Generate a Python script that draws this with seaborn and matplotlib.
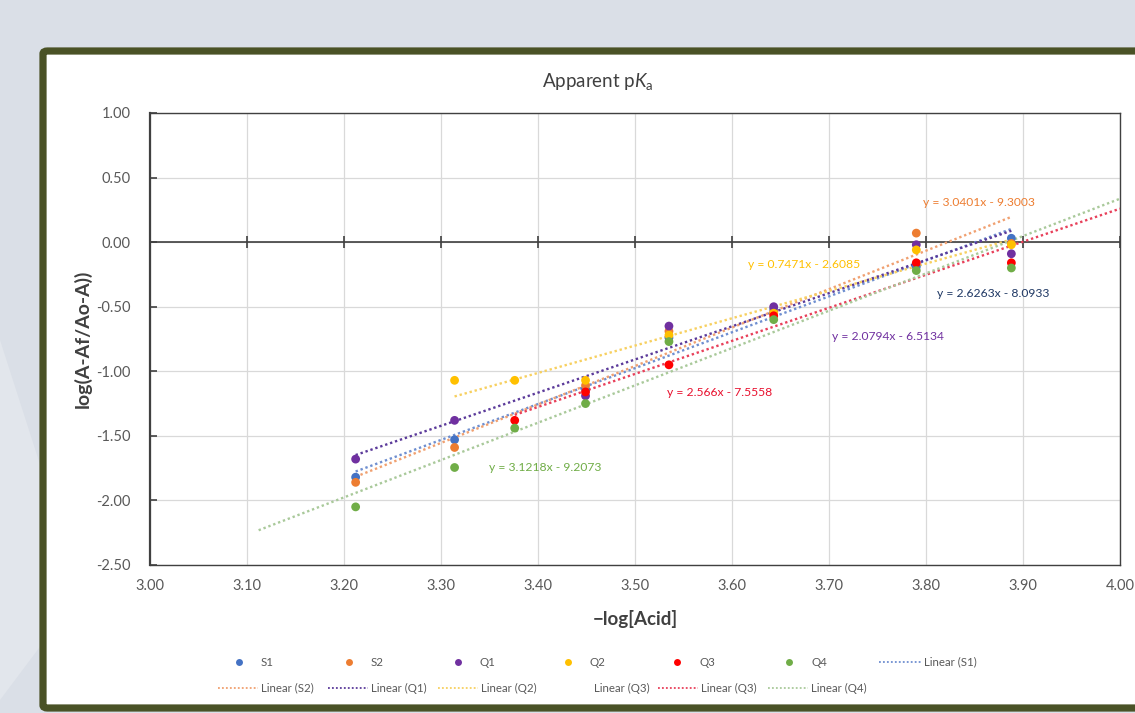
import numpy as np
import pandas as pd
import matplotlib
matplotlib.use("Agg")
import matplotlib.pyplot as plt
from matplotlib.lines import Line2D
from matplotlib.patches import FancyBboxPatch, Polygon
import seaborn as sns

# ---- data -------------------------------------------------------------
series_names = ["S1", "S2", "Q1", "Q2", "Q3", "Q4"]

x_s1 = [3.212, 3.314, 3.449, 3.535, 3.643, 3.790, 3.888]
y_s1 = [-1.82, -1.53, -1.14, -0.74, -0.52, -0.19, 0.03]

x_s2 = [3.212, 3.314, 3.449, 3.535, 3.643, 3.790, 3.888]
y_s2 = [-1.86, -1.59, -1.11, -0.69, -0.54, 0.07, -0.01]

x_q1 = [3.212, 3.314, 3.449, 3.535, 3.643, 3.790, 3.888]
y_q1 = [-1.68, -1.38, -1.19, -0.65, -0.50, -0.02, -0.09]

x_q2 = [3.314, 3.376, 3.449, 3.535, 3.643, 3.790, 3.888]
y_q2 = [-1.07, -1.07, -1.07, -0.72, -0.55, -0.06, -0.02]

x_q3 = [3.376, 3.449, 3.535, 3.643, 3.790, 3.888]
y_q3 = [-1.38, -1.16, -0.95, -0.57, -0.16, -0.16]

x_q4 = [3.212, 3.314, 3.376, 3.449, 3.535, 3.643, 3.790, 3.888]
y_q4 = [-2.05, -1.745, -1.44, -1.25, -0.77, -0.60, -0.22, -0.20]

equations = ["y = 3.0401x - 9.3003", "y = 0.7471x - 2.6085",
             "y = 2.6263x - 8.0933", "y = 2.0794x - 6.5134",
             "y = 2.566x - 7.5558", "y = 3.1218x - 9.2073"]

x_ticks = [3.00, 3.10, 3.20, 3.30, 3.40, 3.50, 3.60, 3.70, 3.80, 3.90, 4.00]
y_ticks = [1.00, 0.50, 0.00, -0.50, -1.00, -1.50, -2.00, -2.50]

# ---- styling ----------------------------------------------------------
point_colors = {"S1": "#4472C4", "S2": "#ED7D31", "Q1": "#7030A0",
                "Q2": "#FFC000", "Q3": "#FF0000", "Q4": "#70AD47"}
trend_colors = {"S1": "#6f8fd0", "S2": "#f0a070", "Q1": "#5b3a9a",
                "Q2": "#f7d060", "Q3": "#e8405a", "Q4": "#a9c99a"}
# trendline forecast (backward, forward) in x units
trend_extend = {"S1": (0, 0), "S2": (0, 0), "Q1": (0, 0),
                "Q2": (0, 0), "Q3": (0, 0.112), "Q4": (0.1, 0.112)}
eq_colors = ["#ED7D31", "#FFC000", "#1F3864", "#7030A0", "#E8102E", "#70AD47"]
eq_pos = [(3.797, 0.309), (3.6165, -0.170), (3.811, -0.394),
          (3.703, -0.734), (3.533, -1.166), (3.349, -1.745)]

sns.set_theme(style="white")
plt.rcParams["font.family"] = ["Lato", "DejaVu Sans"]
plt.rcParams["mathtext.fontset"] = "custom"
plt.rcParams["mathtext.rm"] = "Lato"
plt.rcParams["mathtext.it"] = "Lato:italic"

W, H = 1135, 713
fig = plt.figure(figsize=(W / 100, H / 100), dpi=100, facecolor="#dadfe7")


def fx(px):
    return px / W


def fy(py):
    return 1 - py / H


# soft lighter swoosh on the left of the backdrop
fig.patches.append(Polygon([(0, fy(340)), (fx(45), fy(480)), (fx(45), fy(640)),
                            (0, fy(700))], closed=True, transform=fig.transFigure,
                           facecolor="#e2e6ec", edgecolor="none", zorder=0))
# white panel with olive frame
fig.patches.append(FancyBboxPatch((fx(43), fy(708)), fx(1150 - 43), (708 - 51) / H,
                                  boxstyle="round,pad=0,rounding_size=0.004",
                                  transform=fig.transFigure, facecolor="white",
                                  edgecolor="#4a5226", linewidth=5.2, zorder=1))

ax = fig.add_axes([fx(150), fy(565), (1120 - 150) / W, (565 - 113) / H])
ax.set_facecolor("white")
ax.set_zorder(2)

xs = {"S1": x_s1, "S2": x_s2, "Q1": x_q1, "Q2": x_q2, "Q3": x_q3, "Q4": x_q4}
ys = {"S1": y_s1, "S2": y_s2, "Q1": y_q1, "Q2": y_q2, "Q3": y_q3, "Q4": y_q4}
df = pd.concat([pd.DataFrame({"x": xs[n], "y": ys[n], "series": n}) for n in series_names],
               ignore_index=True)

# grid
ax.set_xlim(3.0, 4.0)
ax.set_ylim(-2.5, 1.0)
ax.set_xticks(x_ticks)
ax.set_yticks(y_ticks)
ax.grid(True, color="#d9d9d9", linewidth=0.9)
ax.set_axisbelow(True)

# zero axis line with crossing tick marks
ax.axhline(0, color="#3f3f3f", linewidth=1.2, zorder=2)
ax.plot(x_ticks, np.zeros(len(x_ticks)), linestyle="none", marker="|",
        markersize=9, markeredgewidth=1.2, color="#3f3f3f", zorder=2, clip_on=False)

# linear trendlines
dotted = (0, (1.0, 1.2))
for n in series_names:
    k, b = np.polyfit(xs[n], ys[n], 1)
    back, fwd = trend_extend[n]
    xx = np.array([min(xs[n]) - back, max(xs[n]) + fwd])
    ax.plot(xx, k * xx + b, linestyle=dotted, linewidth=1.7,
            color=trend_colors[n], zorder=3)

# data points
sns.scatterplot(data=df, x="x", y="y", hue="series", palette=point_colors,
                hue_order=series_names, s=40, edgecolor="none", linewidth=0,
                legend=False, ax=ax, zorder=4)

for txt, c, (px, py) in zip(equations, eq_colors, eq_pos):
    ax.text(px, py, txt, color=c, fontsize=8.7, va="center", ha="left", zorder=5)

# axes frame and ticks
for side in ["left", "right", "top", "bottom"]:
    ax.spines[side].set_color("#404040")
    ax.spines[side].set_linewidth(1.0)
ax.spines["left"].set_linewidth(1.6)
ax.tick_params(axis="y", direction="in", length=5, width=1.2, color="#404040",
               left=True, labelsize=10.5, labelcolor="#595959", pad=14)
ax.tick_params(axis="x", length=0, labelsize=10.5, labelcolor="#595959", pad=10)
ax.set_xticklabels([f"{v:.2f}" for v in x_ticks])
ax.set_yticklabels([f"{v:.2f}" for v in y_ticks])

ax.set_xlabel("\u2212log[Acid]", fontsize=13.5, fontweight="bold", color="#404040", labelpad=12)
ax.set_ylabel("log(A-Af/Ao-A))", fontsize=14, fontweight="bold", color="#404040", labelpad=3)
fig.text(fx(598), fy(82), "Apparent p$\\mathit{K}_\\mathrm{a}$", fontsize=13.5,
         color="#404040", ha="center", va="center", zorder=3)

# legend: two rows of entries laid out on the panel
LEG_FS = 8.3
LEG_COLOR = "#595959"


def legend_dot(cx, cy, c):
    fig.add_artist(Line2D([fx(cx)], [fy(cy)], linestyle="none", marker="o", markersize=5,
                          markerfacecolor=c, markeredgecolor="none",
                          transform=fig.transFigure, zorder=3))


def legend_line(x0, x1, cy, c):
    fig.add_artist(Line2D([fx(x0), fx(x1)], [fy(cy), fy(cy)], linestyle=dotted,
                          linewidth=1.3, color=c, transform=fig.transFigure, zorder=3))


def legend_text(x0, cy, s):
    fig.text(fx(x0), fy(cy), s, fontsize=LEG_FS, color=LEG_COLOR, va="center",
             ha="left", zorder=3)


row1_y, row2_y = 662, 688
row1_dot_x = [239, 349, 458, 568, 677, 789]
for n, cx in zip(series_names, row1_dot_x):
    legend_dot(cx, row1_y, point_colors[n])
    legend_text(cx + 22, row1_y, n)
legend_line(879, 921, row1_y, trend_colors["S1"])
legend_text(924, row1_y, "Linear (S1)")

row2_entries = [("S2", 218, "Linear (S2)"), ("Q1", 328, "Linear (Q1)"),
                ("Q2", 438, "Linear (Q2)"), (None, 551, "Linear (Q3)"),
                ("Q3", 658, "Linear (Q3)"), ("Q4", 768, "Linear (Q4)")]
for key, x0, label in row2_entries:
    if key is not None:
        legend_line(x0, x0 + 40, row2_y, trend_colors[key])
    legend_text(x0 + 43, row2_y, label)

fig.savefig("out.png", dpi=100, facecolor=fig.get_facecolor())
